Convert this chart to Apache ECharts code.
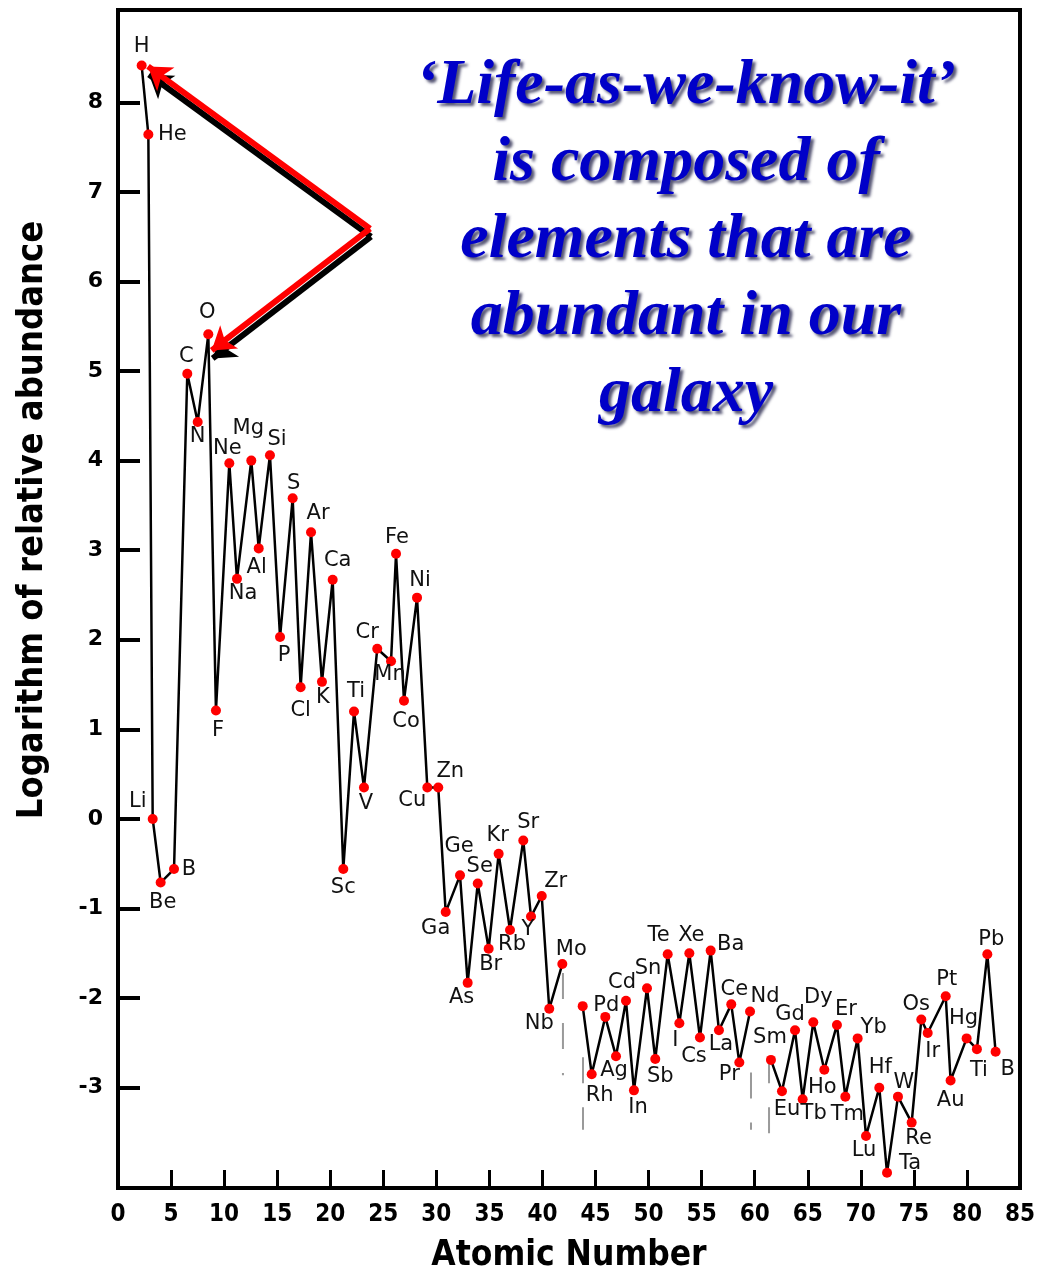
<!DOCTYPE html>
<html>
<head>
<meta charset="utf-8">
<title>Elemental abundance</title>
<script src="https://cdn.jsdelivr.net/npm/echarts@6/dist/echarts.min.js"></script>
<style>
  html, body { margin: 0; padding: 0; background: #fff; }
  #chart { width: 1049px; height: 1271px; }
</style>
</head>
<body>
<div id="chart"></div>
<script>
// element symbols in atomic-number order (Tc and Pm are gaps in the curve)
const symbols = ['H','He','Li','Be','B','C','N','O','F','Ne','Na','Mg','Al','Si','P','S','Cl','Ar','K','Ca',
  'Sc','Ti','V','Cr','Mn','Fe','Co','Ni','Cu','Zn','Ga','Ge','As','Se','Br','Kr','Rb','Sr','Y','Zr',
  'Nb','Mo','Tc','Ru','Rh','Pd','Ag','Cd','In','Sn','Sb','Te','I','Xe','Cs','Ba','La','Ce','Pr','Nd',
  'Pm','Sm','Eu','Gd','Tb','Dy','Ho','Er','Tm','Yb','Lu','Hf','Ta','W','Re','Os','Ir','Pt','Au','Hg',
  'Tl','Pb','Bi'];

// horizontal position of each point
const atomicX = [2.23,2.86,3.27,4.02,5.28,6.53,7.51,8.51,9.23,10.49,11.21,12.56,13.26,14.32,15.27,16.46,17.21,18.19,19.22,20.23,
  21.23,22.24,23.18,24.43,25.73,26.20,26.95,28.18,29.15,30.18,30.88,32.23,32.95,33.90,34.93,35.87,36.94,38.19,38.92,39.93,
  40.64,41.87,42.80,43.79,44.64,45.92,46.93,47.87,48.62,49.85,50.63,51.80,52.90,53.84,54.84,55.85,56.63,57.79,58.55,59.56,
  60.50,61.53,62.57,63.80,64.52,65.52,66.56,67.75,68.54,69.70,70.49,71.74,72.47,73.50,74.79,75.70,76.30,78.00,78.46,79.97,
  80.94,81.92,82.70];

// log of relative abundance ('-' = no value, line is broken there)
const logAbundance = [8.41,7.64,0.00,-0.71,-0.56,4.97,4.43,5.41,1.21,3.97,2.68,4.00,3.02,4.06,2.03,3.58,1.47,3.20,1.53,2.67,
  -0.56,1.20,0.35,1.90,1.76,2.96,1.32,2.47,0.35,0.35,-1.04,-0.63,-1.83,-0.72,-1.45,-0.39,-1.24,-0.24,-1.09,-0.86,
  -2.12,-1.62,'-',-2.09,-2.85,-2.21,-2.65,-2.03,-3.03,-1.89,-2.68,-1.51,-2.28,-1.50,-2.44,-1.47,-2.36,-2.07,-2.72,-2.15,
  '-',-2.69,-3.04,-2.36,-3.13,-2.27,-2.80,-2.30,-3.10,-2.45,-3.54,-3.00,-3.95,-3.10,-3.39,-2.24,-2.39,-1.98,-2.92,-2.45,
  -2.57,-1.51,-2.60];

// text written next to a point where it differs from the symbol
const shownAs = { Ru: '', Tc: '', Pm: '', Tl: 'Ti', Bi: 'B' };

// dashed gray markers around the missing elements
const gapX = [41.93, 43.82, 59.65, 61.35];
const gapTop = [-1.72, -2.66, -2.83, -2.66];
const gapBottom = [-2.86, -3.47, -3.47, -3.55];

// y tick values
const yTicks = [-3, -2, -1, 0, 1, 2, 3, 4, 5, 6, 7, 8];

// annotation arrows: common tail, heads at H and O
const arrowTail = [23.75, 6.59];
const arrowHeads = [[2.83, 8.40], [8.83, 5.23]];

// label placement (pixel offset from the dot centre)
const labelOffset = {
  H:[0,-19], He:[24,0], Li:[-15,-17], Be:[2,20], B:[15,0], C:[-1,-17], N:[0,14], O:[-1,-22], F:[2,20], Ne:[-2,-15],
  Na:[6,15], Mg:[-3,-32], Al:[-2,19], Si:[7,-16], P:[4,18], S:[1,-15], Cl:[0,23], Ar:[7,-19], K:[1,16], Ca:[5,-19],
  Sc:[0,18], Ti:[2,-20], V:[2,16], Cr:[-10,-16], Mn:[-1,13], Fe:[1,-16], Co:[2,21], Ni:[3,-17], Cu:[-15,13], Zn:[12,-16],
  Ga:[-10,16], Ge:[-1,-29], As:[-6,15], Se:[2,-17], Br:[2,16], Kr:[-1,-18], Rb:[2,15], Sr:[5,-18], Y:[-3,13], Zr:[14,-14],
  Nb:[-10,15], Mo:[9,-14], Rh:[8,21], Pd:[1,-11], Ag:[-2,14], Cd:[-4,-18], In:[4,17], Sn:[1,-20], Sb:[5,18], Te:[-9,-19],
  I:[-4,17], Xe:[2,-18], Cs:[-6,19], Ba:[20,-6], La:[2,14], Ce:[3,-15], Pr:[-10,12], Nd:[15,-15], Sm:[-1,-22], Eu:[5,18],
  Gd:[-5,-16], Tb:[11,14], Dy:[5,-25], Ho:[-2,18], Er:[9,-15], Tm:[2,18], Yb:[16,-11], Lu:[-2,15], Hf:[1,-20], Ta:[23,-9],
  W:[6,-14], Re:[7,16], Os:[-5,-15], Ir:[5,19], Pt:[1,-17], Au:[0,20], Hg:[-3,-20], Tl:[2,21], Pb:[4,-15], Bi:[12,18]
};

const chart = echarts.init(document.getElementById('chart'));

const points = symbols.map(function (s, i) {
  const text = (s in shownAs) ? shownAs[s] : s;
  return {
    name: s,
    value: [atomicX[i], logAbundance[i]],
    label: { show: text !== '', offset: labelOffset[s] || [0, 0], formatter: text }
  };
});

const gapLines = [];
gapX.forEach(function (x, i) {
  gapLines.push([x, gapTop[i]], [x, gapBottom[i]], [x, '-']);
});

// black shadow of the arrows sits a few pixels lower
const shadowShift = [0.09, -0.09];
const arrowData = arrowHeads.map(function (h) { return { coords: [arrowTail, h] }; });
const shadowData = arrowHeads.map(function (h) {
  return { coords: [
    [arrowTail[0] + shadowShift[0], arrowTail[1] + shadowShift[1]],
    [h[0] + shadowShift[0], h[1] + shadowShift[1]]
  ] };
});

const condFont = 'DejaVu Sans Condensed, DejaVu Sans, sans-serif';

chart.setOption({
  animation: false,
  backgroundColor: '#fff',
  title: {
    text: '\u2018Life-as-we-know-it\u2019\nis composed of\nelements that are\nabundant in our\ngalaxy',
    left: 686,
    top: 48,
    textAlign: 'center',
    padding: 0,
    textStyle: {
      fontFamily: 'Liberation Serif, Times New Roman, serif',
      fontStyle: 'italic',
      fontWeight: 'bold',
      fontSize: 64,
      lineHeight: 77,
      color: '#0000c8',
      textShadowColor: 'rgba(30,30,70,0.75)',
      textShadowBlur: 3,
      textShadowOffsetX: 3,
      textShadowOffsetY: 3
    }
  },
  graphic: [{
    type: 'text',
    x: 33,
    y: 520,
    rotation: Math.PI / 2,
    style: {
      text: 'Logarithm of relative abundance',
      font: 'bold 36px ' + condFont,
      fill: '#000',
      textAlign: 'center',
      textVerticalAlign: 'middle'
    }
  }],
  grid: {
    left: 118, right: 29, top: 10, bottom: 83,
    containLabel: false,
    outerBoundsMode: 'none',
    show: true, borderColor: '#000', borderWidth: 4
  },
  xAxis: {
    type: 'value',
    min: 0, max: 85, interval: 5,
    name: 'Atomic Number',
    nameLocation: 'middle',
    nameGap: 50,
    nameTextStyle: { fontFamily: condFont, fontWeight: 'bold', fontSize: 35, color: '#000' },
    axisLine: { show: true, onZero: false, lineStyle: { color: '#000', width: 4 } },
    axisTick: { show: true, inside: true, length: 18, lineStyle: { color: '#000', width: 3 } },
    axisLabel: { margin: 15, fontFamily: condFont, fontWeight: 'bold', fontSize: 24, color: '#000' },
    splitLine: { show: false }
  },
  yAxis: {
    type: 'value',
    min: -4.12, max: 9.03,
    axisLine: { show: true, onZero: false, lineStyle: { color: '#000', width: 4 } },
    axisTick: { show: true, inside: true, length: 22, customValues: yTicks, lineStyle: { color: '#000', width: 4 } },
    axisLabel: { margin: 15, customValues: yTicks, fontFamily: 'DejaVu Sans, sans-serif', fontWeight: 'bold', fontSize: 22, color: '#000',
      formatter: function (v) { return String(v); } },
    splitLine: { show: false }
  },
  series: [
    {
      name: 'gaps',
      type: 'line',
      data: gapLines,
      showSymbol: false,
      connectNulls: false,
      silent: true,
      z: 1,
      lineStyle: { color: '#9a9a9a', width: 2, type: [26, 24] }
    },
    {
      name: 'abundance',
      type: 'line',
      data: points,
      connectNulls: false,
      symbol: 'circle',
      symbolSize: 10,
      z: 2,
      itemStyle: { color: '#ff0000' },
      lineStyle: { color: '#000', width: 2.5 },
      label: {
        show: true,
        position: 'inside',
        fontFamily: 'DejaVu Sans, sans-serif',
        fontSize: 21,
        color: '#111',
        textBorderWidth: 0
      }
    },
    {
      name: 'arrowShadow',
      type: 'lines',
      coordinateSystem: 'cartesian2d',
      data: shadowData,
      symbol: ['none', 'arrow'],
      symbolSize: 22,
      silent: true,
      z: 3,
      lineStyle: { color: '#000', width: 6, opacity: 1, curveness: 0 }
    },
    {
      name: 'arrows',
      type: 'lines',
      coordinateSystem: 'cartesian2d',
      data: arrowData,
      symbol: ['none', 'arrow'],
      symbolSize: 22,
      silent: true,
      z: 4,
      lineStyle: { color: '#ff0000', width: 6, opacity: 1, curveness: 0 }
    }
  ]
});
</script>
</body>
</html>
